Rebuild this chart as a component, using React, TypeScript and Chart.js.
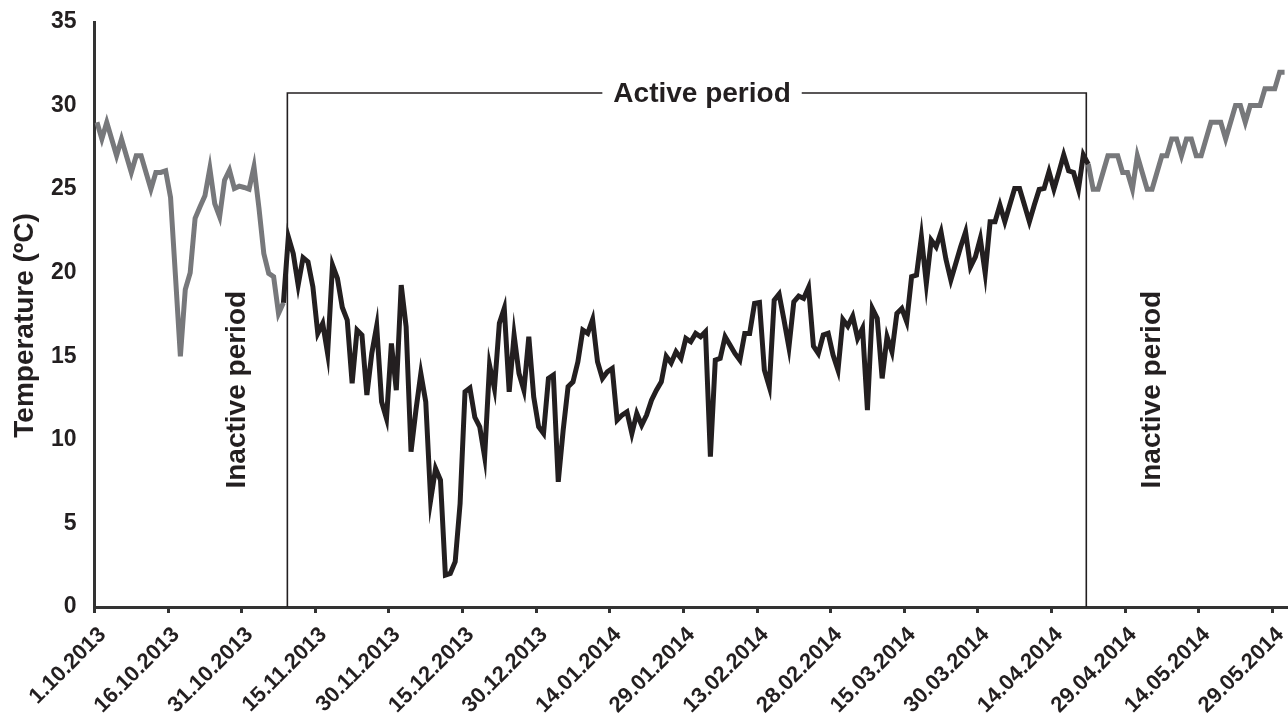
import React, { useEffect, useRef } from 'react';
import { Chart, registerables } from 'chart.js';

Chart.register(...registerables);

const FONT = '"Liberation Sans", Arial, Helvetica, sans-serif';
const INK = '#231f20';
const GRAY = '#77787b';
const AXIS = '#333333';

// x-axis tick labels, one every 15 days starting 1.10.2013 (day index 0)
const tickLabels = [
  '1.10.2013', '16.10.2013', '31.10.2013', '15.11.2013', '30.11.2013', '15.12.2013',
  '30.12.2013', '14.01.2014', '29.01.2014', '13.02.2014', '28.02.2014', '15.03.2014',
  '30.03.2014', '14.04.2014', '29.04.2014', '14.05.2014', '29.05.2014',
];
const DAYS_PER_TICK = 15;
const LAST_VISIBLE_DAY = 242.7;

const yTicks = [0, 5, 10, 15, 20, 25, 30, 35];

// daily temperatures (ºC), inactive period before (days 0..38)
const autumnInactive = [
  29, 28, 29, 28, 27, 28, 27, 26, 27, 27, 26, 25, 26, 26, 26.1, 24.5, 19.8, 15, 19, 20,
  23.25, 23.95, 24.6, 26.24, 24.14, 23.35, 25.54, 26.14, 25.04, 25.18, 25.1, 25.0, 26.34,
  23.9, 21.15, 19.96, 19.76, 17.56, 18.2,
];

// active period (days 38..202)
const activeStartDay = 38;
const activePeriod = [
  18.2, 22.15, 21.15, 19.26, 20.9, 20.65, 19.16, 16.37, 16.97, 15.17,
  20.45, 19.66, 17.92, 17.17, 13.38, 16.57, 16.27, 12.68, 15.17, 16.8,
  12.28, 11.28, 15.77, 12.97, 19.26, 16.77, 9.29, 11.78, 13.97, 12.28,
  6.4, 8.29, 7.6, 1.91, 2.01, 2.71, 6.2, 12.88, 13.1, 11.35,
  10.78, 8.99, 14.47, 13.07, 16.97, 17.87, 12.87, 16.27, 13.97, 12.97,
  16.17, 12.57, 10.78, 10.38, 13.67, 13.87, 7.49, 10.58, 13.18, 13.47,
  14.67, 16.57, 16.37, 17.2, 14.67, 13.67, 14.07, 14.27, 11.18, 11.48,
  11.68, 10.38, 11.58, 10.88, 11.48, 12.37, 12.97, 13.47, 15.0, 14.6,
  15.27, 14.87, 16.07, 15.87, 16.37, 16.17, 16.47, 8.99, 14.77, 14.87,
  16.17, 15.67, 15.17, 14.77, 16.37, 16.37, 18.16, 18.22, 14.17, 13.18,
  18.36, 18.72, 17.17, 15.53, 18.26, 18.6, 18.46, 19.12, 15.61, 15.17,
  16.27, 16.37, 15.07, 14.17, 17.2, 16.8, 17.4, 16.07, 16.67, 11.78,
  17.86, 17.27, 13.68, 16.17, 15.27, 17.56, 17.86, 17.07, 19.76, 19.86,
  22.15, 19.36, 21.95, 21.55, 22.44, 20.8, 19.56, 20.55, 21.55, 22.44,
  20.35, 20.95, 22.05, 19.96, 23.05, 23.05, 24.05, 23.05, 24.05, 25.04,
  25.04, 24.05, 23.05, 24.05, 24.98, 25.04, 26.05, 25.0, 26.0, 27.05,
  26.1, 26.0, 25.0, 27.05, 26.5,
];

// inactive period after (days 202..242)
const springStartDay = 202;
const springInactive = [
  26.5, 25, 25, 26, 27, 27, 27, 26, 26, 25, 27, 26, 25, 25, 26, 27, 27, 28, 28, 27,
  28, 28, 27, 27, 28, 29, 29, 29, 28, 29, 30, 30, 29, 30, 30, 30, 31, 31, 31, 32, 32,
];

// annotation anchors in data units (day index, ºC)
const activeBox = { startDay: 38.8, endDay: 201.6, top: 30.75, labelDay: 123.3 };
const inactiveLabels = [
  { day: 28.6, temp: 13.0 },
  { day: 215.0, temp: 13.0 },
];

const toPoints = (values: number[], start: number) =>
  values.map((v, k) => ({ x: start + k, y: v }));

const periodsPlugin = {
  id: 'periods',
  beforeDatasetsDraw(chart: any) {
    const { ctx } = chart;
    const x = chart.scales.x;
    const y = chart.scales.y;
    const left = x.getPixelForValue(activeBox.startDay);
    const right = x.getPixelForValue(activeBox.endDay);
    const top = y.getPixelForValue(activeBox.top);
    const bottom = y.getPixelForValue(0);
    ctx.save();
    ctx.strokeStyle = INK;
    ctx.lineWidth = 1.6;
    ctx.beginPath();
    ctx.moveTo(left, bottom);
    ctx.lineTo(left, top);
    ctx.lineTo(right, top);
    ctx.lineTo(right, bottom);
    ctx.stroke();

    ctx.font = `bold 28px ${FONT}`;
    const text = 'Active period';
    const cx = x.getPixelForValue(activeBox.labelDay);
    const w = ctx.measureText(text).width;
    ctx.fillStyle = '#ffffff';
    ctx.fillRect(cx - w / 2 - 11, top - 4, w + 22, 8);
    ctx.fillStyle = INK;
    ctx.textAlign = 'center';
    ctx.textBaseline = 'middle';
    ctx.fillText(text, cx, top + 1);

    inactiveLabels.forEach((lab) => {
      const px = x.getPixelForValue(lab.day);
      const py = y.getPixelForValue(lab.temp);
      ctx.save();
      ctx.translate(px, py);
      ctx.rotate(-Math.PI / 2);
      ctx.textAlign = 'center';
      ctx.textBaseline = 'middle';
      ctx.fillText('Inactive period', 0, 0);
      ctx.restore();
    });

    // y-axis title
    ctx.save();
    ctx.translate(25, (y.top + y.bottom) / 2 + 11);
    ctx.rotate(-Math.PI / 2);
    ctx.textAlign = 'center';
    ctx.textBaseline = 'middle';
    ctx.fillText('Temperature (ºC)', 0, 0);
    ctx.restore();
    ctx.restore();
  },
};

export default function App() {
  const canvasRef = useRef<HTMLCanvasElement | null>(null);

  useEffect(() => {
    document.body.style.margin = '0';
    const canvas = canvasRef.current;
    if (!canvas) return;
    const chart = new Chart(canvas, {
      type: 'line',
      data: {
        datasets: [
          {
            label: 'Active period',
            data: toPoints(activePeriod, activeStartDay),
            borderColor: INK,
            borderWidth: 5,
            pointRadius: 0,
            tension: 0,
            fill: false,
          },
          {
            label: 'Inactive (autumn)',
            data: toPoints(autumnInactive, 0),
            borderColor: GRAY,
            borderWidth: 5,
            pointRadius: 0,
            tension: 0,
            fill: false,
          },
          {
            label: 'Inactive (spring)',
            data: toPoints(springInactive, springStartDay),
            borderColor: GRAY,
            borderWidth: 5,
            pointRadius: 0,
            tension: 0,
            fill: false,
          },
        ],
      },
      options: {
        responsive: false,
        animation: false,
        devicePixelRatio: 1,
        layout: { padding: { top: 22, left: 0, right: 0, bottom: 0 } },
        plugins: {
          legend: { display: false },
          tooltip: { enabled: false },
        },
        elements: { line: { borderJoinStyle: 'miter', borderCapStyle: 'butt' } },
        scales: {
          x: {
            type: 'linear',
            min: -0.5,
            max: LAST_VISIBLE_DAY,
            afterBuildTicks: (scale: any) => {
              scale.ticks = tickLabels.map((_, k) => ({ value: k * DAYS_PER_TICK - 0.5 }));
            },
            afterFit: (scale: any) => {
              scale.height = 113;
              scale.paddingLeft = 0;
              scale.paddingRight = 0;
              scale.paddingTop = 0;
              scale.paddingBottom = 0;
            },
            grid: {
              display: true,
              drawOnChartArea: false,
              drawTicks: true,
              tickLength: 6,
              tickWidth: 3,
              tickColor: AXIS,
            },
            border: { display: true, color: AXIS, width: 3 },
            ticks: {
              autoSkip: false,
              minRotation: 45,
              maxRotation: 45,
              padding: 9,
              labelOffset: 8,
              color: INK,
              font: { family: FONT, size: 22, weight: 'bold' },
              callback: (_v: any, index: number) => tickLabels[index] ?? '',
            },
          },
          y: {
            type: 'linear',
            min: 0,
            max: 35,
            afterBuildTicks: (scale: any) => {
              scale.ticks = yTicks.map((v) => ({ value: v }));
            },
            afterFit: (scale: any) => {
              scale.width = 94.5;
              scale.paddingTop = 0;
              scale.paddingBottom = 0;
              scale.paddingLeft = 0;
              scale.paddingRight = 0;
            },
            grid: { display: false, drawTicks: false },
            border: { display: true, color: AXIS, width: 3 },
            ticks: {
              padding: 18,
              color: INK,
              font: { family: FONT, size: 23, weight: 'bold' },
            },
          },
        },
      },
      plugins: [periodsPlugin],
    } as any);
    return () => chart.destroy();
  }, []);

  return (
    <div style={{ width: 1288, height: 720, background: '#ffffff' }}>
      <canvas ref={canvasRef} width={1288} height={720} />
    </div>
  );
}
